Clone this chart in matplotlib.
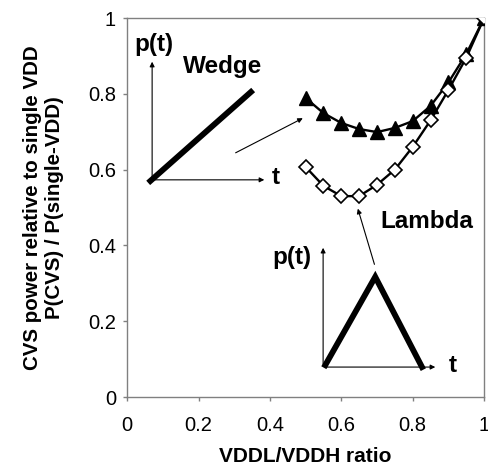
import matplotlib
matplotlib.use("Agg")
import matplotlib.pyplot as plt

plt.rcParams['font.family'] = ['Liberation Sans', 'DejaVu Sans']

ratio = [0.5, 0.55, 0.6, 0.65, 0.7, 0.75, 0.8, 0.85, 0.9, 0.95, 1.0]
wedge = [0.789, 0.749, 0.723, 0.707, 0.699, 0.71, 0.728, 0.768, 0.83, 0.905, 1.0]
lambda_ = [0.607, 0.557, 0.53, 0.53, 0.56, 0.60, 0.66, 0.73, 0.81, 0.895, 1.0]
xticks = [0, 0.2, 0.4, 0.6, 0.8, 1]
yticks = [0, 0.2, 0.4, 0.6, 0.8, 1]
ticklabels = ['0', '0.2', '0.4', '0.6', '0.8', '1']

fig = plt.figure(figsize=(4.89, 4.69), dpi=100)
ax = fig.add_axes([0.26, 0.1535, 0.73, 0.8081])

ax.plot(ratio, wedge, color='black', lw=1.7, marker='^', ms=9.5,
        mfc='black', mec='black', zorder=3)
ax.plot(ratio, lambda_, color='black', lw=1.7, marker='D', ms=7,
        mfc='white', mec='black', mew=1.2, zorder=3)

ax.set_xlim(0, 1)
ax.set_ylim(0, 1)
ax.set_xticks(xticks)
ax.set_yticks(yticks)
ax.set_xticklabels(ticklabels, fontsize=14.5)
ax.set_yticklabels(ticklabels, fontsize=14.5)
for s in ax.spines.values():
    s.set_color('#808080')
    s.set_linewidth(1)
ax.tick_params(direction='out', length=3, color='#808080', width=1)
ax.tick_params(axis='x', pad=11)
ax.tick_params(axis='y', pad=5)

ax.set_xlabel('VDDL/VDDH ratio', fontsize=15, fontweight='bold', labelpad=8)
ax.set_ylabel('CVS power relative to single VDD\nP(CVS) / P(single-VDD)',
              fontsize=14.8, fontweight='bold', labelpad=17, linespacing=1.25)

ap = dict(arrowstyle='-|>', color='black', lw=0.8, mutation_scale=7)
fs_in = 17.5

# Wedge inset
ax.annotate('', xy=(0.07, 0.892), xytext=(0.07, 0.567), arrowprops=ap)
ax.annotate('', xy=(0.392, 0.573), xytext=(0.07, 0.573), arrowprops=ap)
ax.plot([0.059, 0.353], [0.565, 0.81], color='black', lw=4.2, solid_capstyle='butt')
ax.text(0.076, 0.929, 'p(t)', fontsize=fs_in, fontweight='bold', ha='center', va='center')
ax.text(0.266, 0.873, 'Wedge', fontsize=fs_in, fontweight='bold', ha='center', va='center')
ax.text(0.415, 0.578, 't', fontsize=fs_in, fontweight='bold', ha='center', va='center')
ax.annotate('', xy=(0.499, 0.739), xytext=(0.297, 0.641), arrowprops=ap)

# Lambda inset
ax.annotate('', xy=(0.549, 0.401), xytext=(0.549, 0.079), arrowprops=ap)
ax.annotate('', xy=(0.871, 0.079), xytext=(0.549, 0.079), arrowprops=ap)
ax.plot([0.555, 0.695, 0.826], [0.084, 0.317, 0.079], color='black', lw=4.2,
        solid_joinstyle='miter')
ax.text(0.462, 0.367, 'p(t)', fontsize=fs_in, fontweight='bold', ha='center', va='center')
ax.text(0.913, 0.084, 't', fontsize=fs_in, fontweight='bold', ha='center', va='center')
ax.text(0.84, 0.462, 'Lambda', fontsize=fs_in, fontweight='bold', ha='center', va='center')
ax.annotate('', xy=(0.644, 0.504), xytext=(0.695, 0.343), arrowprops=ap)

fig.savefig('out.png', dpi=100)
